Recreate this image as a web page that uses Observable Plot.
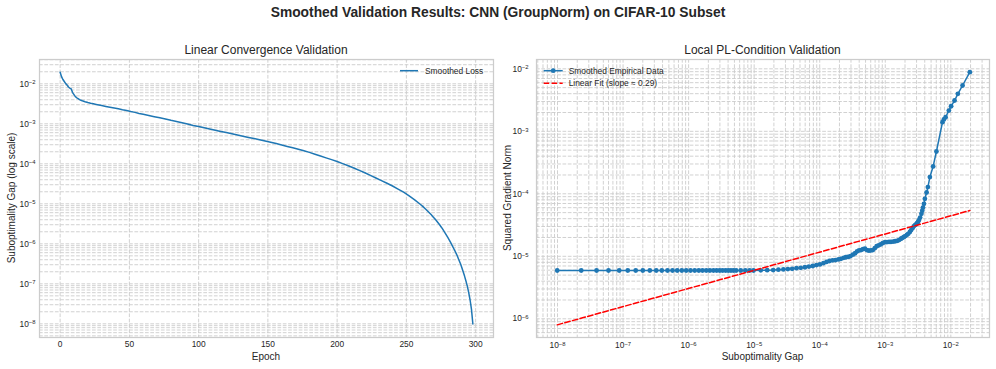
<!DOCTYPE html>
<html><head><meta charset="utf-8">
<script src="https://cdn.jsdelivr.net/npm/d3@7"></script>
<script src="https://cdn.jsdelivr.net/npm/@observablehq/plot@0.6"></script>
<style>
body{margin:0;background:#fff;}
#wrap{position:relative;width:996px;height:369px;overflow:hidden;background:#fff;font-family:"Liberation Sans",Arial,sans-serif;color:#262626;}
.panel{position:absolute;top:0;width:498px;height:369px;}
#overlay{position:absolute;left:0;top:0;pointer-events:none;}
</style></head><body>
<div id="wrap">
  <div class="panel" id="left" style="left:0"></div>
  <div class="panel" id="right" style="left:498px"></div>
  <svg id="overlay" width="996" height="369" font-family="Liberation Sans, Arial, sans-serif" fill="#262626"></svg>
</div>
<script>
// ---------------- data ----------------
const epochs = [0,1,2,3,4,5,6,7,8,9,10,11,12,13,14,15,16,17,18,
  20,22,24,26,28,30,
  33,36,39,42,45,48,51,54,57,60,
  64,68,72,76,80,84,88,92,96,100,104,108,112,116,120,124,128,132,136,140,144,148,152,156,160,
  164,168,172,176,180,184,188,192,196,200,204,208,212,216,220,224,228,232,236,240,244,248,252,256,260,
  262,264,266,268,
  269,270,271,272,273,274,275,276,277,278,279,280,281,282,283,284,285,286,287,288,289,290,291,292,293,294,295,296,297,298];

// smoothed suboptimality gap per epoch
const gap = [1.95e-2,1.51e-2,1.28e-2,1.14e-2,1.01e-2,9.33e-3,8.32e-3,7.83e-3,7.46e-3,6.03e-3,5.37e-3,4.79e-3,4.47e-3,4.27e-3,4.02e-3,3.89e-3,3.76e-3,3.66e-3,3.56e-3,
  3.40e-3,3.27e-3,3.16e-3,3.05e-3,2.95e-3,2.85e-3,
  2.72e-3,2.60e-3,2.48e-3,2.37e-3,2.24e-3,2.14e-3,2.02e-3,1.93e-3,1.82e-3,1.74e-3,
  1.62e-3,1.51e-3,1.41e-3,1.32e-3,1.22e-3,1.14e-3,1.06e-3,9.89e-4,9.12e-4,8.51e-4,7.94e-4,7.41e-4,6.92e-4,6.46e-4,6.03e-4,5.62e-4,5.25e-4,4.90e-4,4.57e-4,4.27e-4,3.98e-4,3.72e-4,3.47e-4,3.20e-4,2.95e-4,
  2.72e-4,2.51e-4,2.32e-4,2.11e-4,1.93e-4,1.74e-4,1.57e-4,1.41e-4,1.27e-4,1.14e-4,1.01e-4,8.91e-5,7.85e-5,6.84e-5,5.96e-5,5.13e-5,4.42e-5,3.80e-5,3.27e-5,2.79e-5,2.34e-5,1.95e-5,1.58e-5,1.26e-5,9.77e-6,
  8.51e-6,7.33e-6,6.24e-6,5.31e-6,
  4.84e-6,4.42e-6,4.03e-6,3.67e-6,3.31e-6,2.99e-6,2.68e-6,2.39e-6,2.11e-6,1.86e-6,1.63e-6,1.43e-6,1.24e-6,1.07e-6,9.18e-7,7.87e-7,6.70e-7,5.68e-7,4.76e-7,3.90e-7,3.21e-7,2.56e-7,2.00e-7,1.56e-7,1.18e-7,8.73e-8,6.00e-8,3.94e-8,2.30e-8,9.89e-9];

// smoothed squared gradient norm per epoch
const gradNorm = [8.83e-3,5.41e-3,3.98e-3,3.11e-3,2.52e-3,2.15e-3,1.68e-3,1.55e-3,1.40e-3,4.75e-4,2.74e-4,1.85e-4,1.28e-4,1.05e-4,8.32e-5,6.92e-5,6.03e-5,5.37e-5,4.79e-5,
  4.17e-5,3.80e-5,3.55e-5,3.39e-5,3.24e-5,3.16e-5,
  3.02e-5,2.82e-5,2.63e-5,2.45e-5,2.29e-5,2.21e-5,2.11e-5,2.04e-5,1.97e-5,1.91e-5,
  1.82e-5,1.76e-5,1.74e-5,1.72e-5,1.70e-5,1.70e-5,1.69e-5,1.68e-5,1.62e-5,1.55e-5,1.50e-5,1.45e-5,1.35e-5,1.26e-5,1.24e-5,1.23e-5,1.26e-5,1.32e-5,1.30e-5,1.26e-5,1.24e-5,1.20e-5,1.12e-5,1.06e-5,1.01e-5,
  9.77e-6,9.66e-6,9.44e-6,9.12e-6,8.91e-6,8.71e-6,8.61e-6,8.41e-6,8.13e-6,7.76e-6,7.41e-6,7.24e-6,7.00e-6,6.84e-6,6.68e-6,6.53e-6,6.46e-6,6.31e-6,6.24e-6,6.17e-6,6.10e-6,6.03e-6,6.00e-6,5.96e-6,5.93e-6,
  5.93e-6,5.93e-6,5.93e-6,5.93e-6,
  5.93e-6,5.93e-6,5.93e-6,5.93e-6,5.93e-6,5.93e-6,5.93e-6,5.93e-6,5.93e-6,5.93e-6,5.93e-6,5.93e-6,5.93e-6,5.93e-6,5.93e-6,5.93e-6,5.93e-6,5.93e-6,5.93e-6,5.93e-6,5.93e-6,5.93e-6,5.93e-6,5.93e-6,5.93e-6,5.93e-6,5.93e-6,5.93e-6,5.93e-6,5.93e-6];

// linear fit in log-log space (slope ≈ 0.29), end points
const fitGap = [9.89e-9, 1.95e-2];
const fitGradNorm = [8.0e-7, 5.4e-5];

// tick labels
const leftXTicks = [0, 50, 100, 150, 200, 250, 300];
const leftYTickExponents = [-8, -7, -6, -5, -4, -3, -2];
const rightXTickExponents = [-8, -7, -6, -5, -4, -3, -2];
const rightYTickExponents = [-6, -5, -4, -3, -2];

// text
const suptitle = "Smoothed Validation Results: CNN (GroupNorm) on CIFAR-10 Subset";
const leftTitle = "Linear Convergence Validation";
const rightTitle = "Local PL-Condition Validation";
const leftXLabel = "Epoch", leftYLabel = "Suboptimality Gap (log scale)";
const rightXLabel = "Suboptimality Gap", rightYLabel = "Squared Gradient Norm";
const legendLeft = ["Smoothed Loss"];
const legendRight = ["Smoothed Empirical Data", "Linear Fit (slope \u2248 0.29)"];

// ---------------- build ----------------
const BLUE = "#1f77b4", RED = "#ff0000", GRID = "#cccccc", DASH = "3.7,1.6";
const rows = epochs.map((e, i) => ({epoch: e, gap: gap[i], gradNorm: gradNorm[i]}));
const fitRows = fitGap.map((g, i) => ({gap: g, gradNorm: fitGradNorm[i]}));

const SUP = {"-": "\u207B", "0": "\u2070", "1": "\u00B9", "2": "\u00B2", "3": "\u00B3", "4": "\u2074", "5": "\u2075", "6": "\u2076", "7": "\u2077", "8": "\u2078", "9": "\u2079"};
const sup = d => "10" + String(Math.round(Math.log10(d))).replace(/./g, c => SUP[c]);
const UNSUP = Object.fromEntries(Object.entries(SUP).map(([k, v]) => [v, k === "-" ? "\u2212" : k]));
const pow = es => es.map(e => 10 ** e);
function logGrid(lo, hi) {
  const out = [];
  for (let n = Math.floor(Math.log10(lo)); n <= Math.ceil(Math.log10(hi)); n++)
    for (let k = 1; k <= 9; k++) { const v = k * 10 ** n; if (v >= lo && v <= hi) out.push(v); }
  return out;
}
// render "10⁻²" tick labels with a real raised, smaller exponent (like matplotlib mathtext)
function mathTicks(svg) {
  d3.select(svg).selectAll("text").each(function () {
    const s = this.textContent;
    const m = /^10([\u207B\u2070\u00B9\u00B2\u00B3\u2074-\u2079]+)$/.exec(s);
    if (!m) return;
    const exp = [...m[1]].map(c => UNSUP[c]).join("");
    const t = d3.select(this);
    t.text("10");
    t.append("tspan").attr("dy", "-0.42em").attr("font-size", "70%").text(exp);
  });
}
const gridStyle = {stroke: GRID, strokeOpacity: 1, strokeWidth: 0.9, strokeDasharray: DASH};
const baseStyle = {fontFamily: "Liberation Sans, Arial, sans-serif", fontSize: "8.4px", color: "#262626", background: "transparent", overflow: "visible"};

const leftY = [4.55e-9, 0.0405];
const left = Plot.plot({
  width: 498, height: 369, marginLeft: 39, marginRight: 5, marginTop: 59, marginBottom: 32,
  style: baseStyle,
  x: {domain: [-14.9, 312.9]},
  y: {type: "log", domain: leftY},
  marks: [
    Plot.gridX(leftXTicks, gridStyle),
    Plot.gridY(logGrid(...leftY), gridStyle),
    Plot.frame({stroke: GRID, strokeWidth: 1.25}),
    Plot.line(rows, {x: "epoch", y: "gap", stroke: BLUE, strokeWidth: 1.5}),
    Plot.axisX(leftXTicks, {tickSize: 0, tickPadding: 4, label: null}),
    Plot.axisY(pow(leftYTickExponents), {tickSize: 0, tickPadding: 4, tickFormat: sup, label: null})
  ]
});
mathTicks(left);
document.getElementById("left").appendChild(left);

const rightX = [4.78e-9, 3.89e-2], rightY = [5.02e-7, 1.41e-2];
const right = Plot.plot({
  width: 498, height: 369, marginLeft: 38, marginRight: 7, marginTop: 59, marginBottom: 32,
  style: baseStyle,
  x: {type: "log", domain: rightX},
  y: {type: "log", domain: rightY},
  marks: [
    Plot.gridX(logGrid(...rightX), gridStyle),
    Plot.gridY(logGrid(...rightY), gridStyle),
    Plot.frame({stroke: GRID, strokeWidth: 1.25}),
    Plot.line(rows, {x: "gap", y: "gradNorm", stroke: BLUE, strokeWidth: 1.5}),
    Plot.dot(rows, {x: "gap", y: "gradNorm", r: 2.4, fill: BLUE, stroke: "none"}),
    Plot.line(fitRows, {x: "gap", y: "gradNorm", stroke: RED, strokeWidth: 1.5, strokeDasharray: "5.5,2.4"}),
    Plot.axisX(pow(rightXTickExponents), {tickSize: 0, tickPadding: 5, tickFormat: sup, label: null}),
    Plot.axisY(pow(rightYTickExponents), {tickSize: 0, tickPadding: 8, tickFormat: sup, label: null})
  ]
});
mathTicks(right);
document.getElementById("right").appendChild(right);

// ---------------- titles, axis labels, legends ----------------
const ov = d3.select("#overlay");
function txt(x, y, s, size, opts = {}) {
  const t = ov.append("text").attr("x", x).attr("y", y).attr("font-size", size).text(s);
  if (opts.anchor) t.attr("text-anchor", opts.anchor);
  if (opts.weight) t.attr("font-weight", opts.weight);
  if (opts.rotate) t.attr("transform", `rotate(-90 ${x} ${y})`);
  return t;
}
txt(498, 17, suptitle, 13.8, {anchor: "middle", weight: "bold"});
txt(266, 54.3, leftTitle, 12, {anchor: "middle"});
txt(762.5, 54.3, rightTitle, 12, {anchor: "middle"});
txt(266, 359.6, leftXLabel, 10, {anchor: "middle"});
txt(762.5, 359.6, rightXLabel, 10, {anchor: "middle"});
txt(14.6, 198, leftYLabel, 10, {anchor: "middle", rotate: true});
txt(510.6, 198, rightYLabel, 10, {anchor: "middle", rotate: true});

// left legend
ov.append("line").attr("x1", 400).attr("x2", 418).attr("y1", 70.7).attr("y2", 70.7).attr("stroke", BLUE).attr("stroke-width", 1.5);
txt(425, 73.7, legendLeft[0], 8.4);
// right legend
ov.append("line").attr("x1", 543.7).attr("x2", 562.7).attr("y1", 70.7).attr("y2", 70.7).attr("stroke", BLUE).attr("stroke-width", 1.5);
ov.append("circle").attr("cx", 553.2).attr("cy", 70.7).attr("r", 2.4).attr("fill", BLUE);
txt(568.7, 73.7, legendRight[0], 8.4);
ov.append("line").attr("x1", 543.7).attr("x2", 562.7).attr("y1", 83.3).attr("y2", 83.3).attr("stroke", RED).attr("stroke-width", 1.5).attr("stroke-dasharray", "5.5,2.4");
txt(568.7, 86.3, legendRight[1], 8.4);
</script>
</body></html>
